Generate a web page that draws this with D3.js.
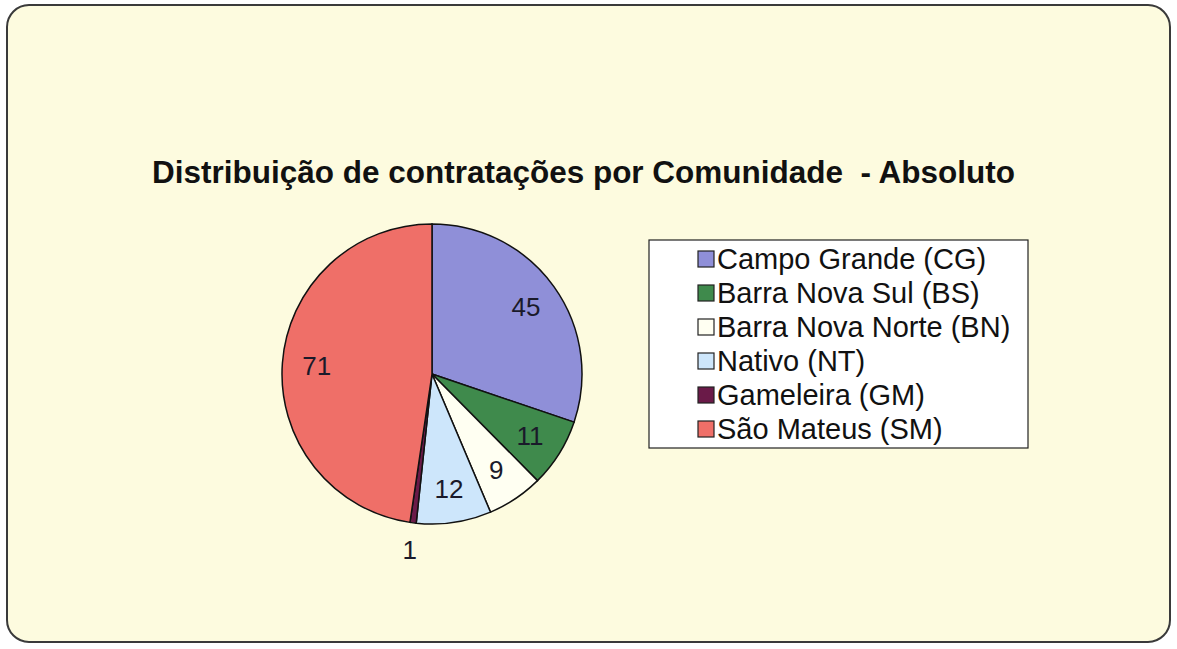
<!DOCTYPE html>
<html>
<head>
<meta charset="utf-8">
<script src="https://cdn.jsdelivr.net/npm/d3@7"></script>
<style>
  html, body { margin: 0; padding: 0; background: #fff; }
  svg { display: block; font-family: Arial, "Liberation Sans", sans-serif; }
</style>
</head>
<body>
<div id="chart"></div>
<script>
// Data
const categories = [
  "Campo Grande (CG)",
  "Barra Nova Sul (BS)",
  "Barra Nova Norte (BN)",
  "Nativo (NT)",
  "Gameleira (GM)",
  "São Mateus (SM)",
];
const values = [45, 11, 9, 12, 1, 71];
const colors = ["#8f8fd8", "#3f8a4c", "#fffff2", "#cde6fb", "#6a1a48", "#ef6f68"];
const title = "Distribuição de contratações por Comunidade  - Absoluto";

const width = 1177;
const height = 649;

const svg = d3
  .select("#chart")
  .append("svg")
  .attr("width", width)
  .attr("height", height);

// Frame
svg
  .append("rect")
  .attr("x", 7)
  .attr("y", 5)
  .attr("width", 1163)
  .attr("height", 637)
  .attr("rx", 22)
  .attr("fill", "#fdfbdf")
  .attr("stroke", "#3a3a3a")
  .attr("stroke-width", 2);

svg
  .append("text")
  .attr("x", 152)
  .attr("y", 183)
  .attr("font-weight", "bold")
  .attr("font-size", 31)
  .attr("fill", "#111")
  .attr("xml:space", "preserve")
  .attr("textLength", 863)
  .attr("lengthAdjust", "spacingAndGlyphs")
  .text(title);

// Pie
const cx = 432;
const cy = 374;
const radius = 150;

const pie = d3.pie().sort(null).value((d) => d.value);
const arcs = pie(categories.map((c, i) => ({ name: c, value: values[i], color: colors[i] })));
const arc = d3.arc().innerRadius(0).outerRadius(radius);
const labelArc = d3.arc().innerRadius(radius * 0.77).outerRadius(radius * 0.77);
const outerLabelArc = d3.arc().innerRadius(radius * 1.18).outerRadius(radius * 1.18);

const g = svg.append("g").attr("transform", `translate(${cx},${cy})`);

g.selectAll("path")
  .data(arcs)
  .enter()
  .append("path")
  .attr("d", arc)
  .attr("fill", (d) => d.data.color)
  .attr("stroke", "#111")
  .attr("stroke-width", 1.5);

g.selectAll("text")
  .data(arcs)
  .enter()
  .append("text")
  .attr("transform", (d) => {
    const small = d.endAngle - d.startAngle < 0.1;
    return `translate(${(small ? outerLabelArc : labelArc).centroid(d)})`;
  })
  .attr("text-anchor", "middle")
  .attr("dy", "0.36em")
  .attr("font-size", 26)
  .attr("fill", "#1a1a2a")
  .text((d) => d.data.value);

// Legend
const legendX = 649;
const legendY = 240;
const rowH = 34;

svg
  .append("rect")
  .attr("x", legendX)
  .attr("y", legendY)
  .attr("width", 379)
  .attr("height", 208)
  .attr("fill", "#fff")
  .attr("stroke", "#222")
  .attr("stroke-width", 1.2);

const item = svg
  .selectAll(".legend-item")
  .data(categories)
  .enter()
  .append("g")
  .attr("class", "legend-item")
  .attr("transform", (d, i) => `translate(${legendX + 49},${legendY + 19 + i * rowH})`);

item
  .append("rect")
  .attr("x", 0)
  .attr("y", -8)
  .attr("width", 16)
  .attr("height", 16)
  .attr("fill", (d, i) => colors[i])
  .attr("stroke", "#222")
  .attr("stroke-width", 1.2);

item
  .append("text")
  .attr("x", 19)
  .attr("dy", "0.36em")
  .attr("font-size", 29)
  .attr("fill", "#111")
  .text((d) => d);
</script>
</body>
</html>
